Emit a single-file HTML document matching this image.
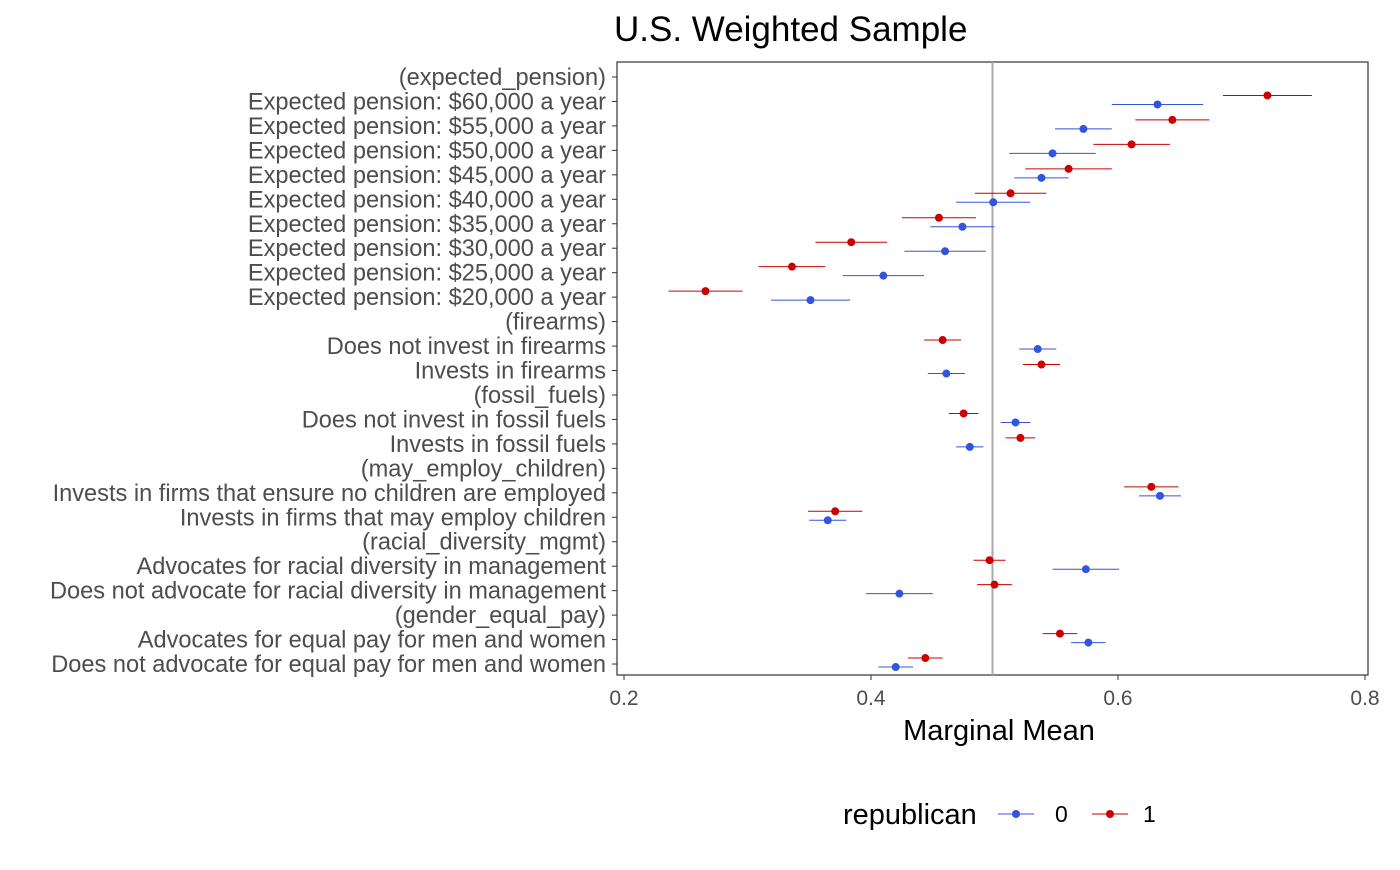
<!DOCTYPE html>
<html><head><meta charset="utf-8"><style>
body{margin:0;background:#fff;font-family:"Liberation Sans",Arial,sans-serif}
</style></head><body>
<svg id="chart" width="1400" height="865" xmlns="http://www.w3.org/2000/svg" font-family="Liberation Sans, Arial, sans-serif">
<text x="614" y="41" font-size="35" fill="#000">U.S. Weighted Sample</text>
<rect x="617" y="62" width="751" height="613" fill="none" stroke="#333" stroke-width="1.2"/>
<g id="g"></g>
<text x="999" y="740" font-size="29" text-anchor="middle" fill="#000">Marginal Mean</text>
<g>
<text x="843" y="824" font-size="29" fill="#000">republican</text>
<line x1="998" y1="814" x2="1034" y2="814" stroke="#3355dd" stroke-width="1"/><circle cx="1016" cy="814" r="4" fill="#3355dd"/>
<text x="1055" y="822" font-size="23">0</text>
<line x1="1092" y1="814" x2="1128" y2="814" stroke="#cc0000" stroke-width="1"/><circle cx="1110" cy="814" r="4" fill="#cc0000"/>
<text x="1143" y="822" font-size="23">1</text>
</g>
</svg>
<script>
const categories=["(expected_pension)","Expected pension: $60,000 a year","Expected pension: $55,000 a year","Expected pension: $50,000 a year","Expected pension: $45,000 a year","Expected pension: $40,000 a year","Expected pension: $35,000 a year","Expected pension: $30,000 a year","Expected pension: $25,000 a year","Expected pension: $20,000 a year","(firearms)","Does not invest in firearms","Invests in firearms","(fossil_fuels)","Does not invest in fossil fuels","Invests in fossil fuels","(may_employ_children)","Invests in firms that ensure no children are employed","Invests in firms that may employ children","(racial_diversity_mgmt)","Advocates for racial diversity in management","Does not advocate for racial diversity in management","(gender_equal_pay)","Advocates for equal pay for men and women","Does not advocate for equal pay for men and women"];
const redMean=[null,0.721,0.644,0.611,0.560,0.513,0.455,0.384,0.336,0.266,null,0.458,0.538,null,0.475,0.521,null,0.627,0.371,null,0.496,0.500,null,0.553,0.444];
const redErr=[null,0.036,0.030,0.031,0.035,0.029,0.030,0.029,0.027,0.030,null,0.015,0.015,null,0.012,0.012,null,0.022,0.022,null,0.013,0.014,null,0.014,0.014];
const blueMean=[null,0.632,0.572,0.547,0.538,0.499,0.474,0.460,0.410,0.351,null,0.535,0.461,null,0.517,0.480,null,0.634,0.365,null,0.574,0.423,null,0.576,0.420];
const blueErr=[null,0.037,0.023,0.035,0.022,0.030,0.026,0.033,0.033,0.032,null,0.015,0.015,null,0.012,0.011,null,0.017,0.015,null,0.027,0.027,null,0.014,0.014];
const xTicks=[0.2,0.4,0.6,0.8];
const refLine=0.5;
const NS="http://www.w3.org/2000/svg";
const g=document.getElementById('g');
const x=v=>624+(v-0.2)*1235;
const y=i=>77+i*24.46;
function mk(t,a){const e=document.createElementNS(NS,t);for(const k in a)e.setAttribute(k,a[k]);g.appendChild(e);return e;}
const rl=mk('line',{x1:x(refLine)-2,x2:x(refLine)-2,y1:62,y2:675,stroke:'#aaa','stroke-width':2});


xTicks.forEach(t=>{
  const l=mk('line',{x1:x(t),x2:x(t),y1:675,y2:680,stroke:'#333'});
  
  
  const tx=mk('text',{x:x(t),y:705,'font-size':21,'text-anchor':'middle',fill:'#4d4d4d'});
  tx.textContent=t.toFixed(1);
  
  
});
categories.forEach((c,i)=>{
  const l=mk('line',{x1:612,x2:617,y1:y(i),y2:y(i),stroke:'#333'});
  
  
  const tx=mk('text',{x:606,y:y(i)+8,'font-size':23.6,'text-anchor':'end',fill:'#4d4d4d'});
  tx.textContent=c;
  
  
  [[blueMean,blueErr,'#3355dd',3,'blue'],[redMean,redErr,'#cc0000',-6,'red']].forEach(([m,e,col,off,nm])=>{
    if(m[i]==null)return;
    const yy=y(i)+off;
    const ln=mk('line',{x1:x(m[i]-e[i]),x2:x(m[i]+e[i]),y1:yy,y2:yy,stroke:col,'stroke-width':1});
    
    
    const p=mk('circle',{cx:x(m[i]),cy:yy,r:4,fill:col});
    
    
  });
});
</script>
</body></html>
